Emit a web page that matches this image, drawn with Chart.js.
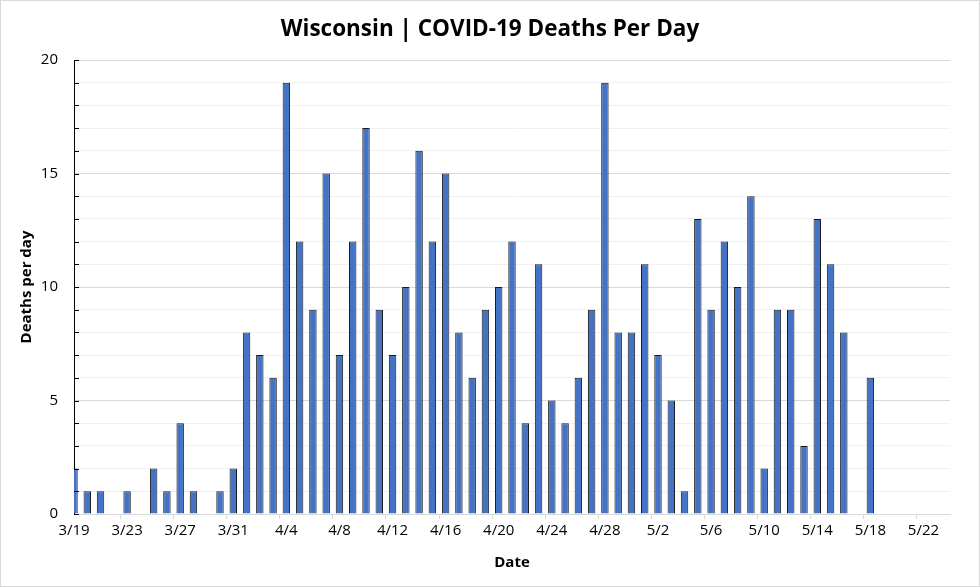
<!DOCTYPE html>
<html>
<head>
<meta charset="utf-8">
<script src="https://cdn.jsdelivr.net/npm/chart.js@4"></script>
<style>
html, body { margin: 0; padding: 0; background: #fff; }
#wrap { width: 980px; height: 587px; }
</style>
</head>
<body>
<div id="wrap"><canvas id="myChart"></canvas></div>
<script>
// one label per day, 3/19 .. 5/24
const dates = [
    '3/19','3/20','3/21','3/22','3/23','3/24','3/25','3/26','3/27','3/28','3/29','3/30','3/31',
    '4/1','4/2','4/3','4/4','4/5','4/6','4/7','4/8','4/9','4/10','4/11','4/12','4/13','4/14','4/15',
    '4/16','4/17','4/18','4/19','4/20','4/21','4/22','4/23','4/24','4/25','4/26','4/27','4/28','4/29','4/30',
    '5/1','5/2','5/3','5/4','5/5','5/6','5/7','5/8','5/9','5/10','5/11','5/12','5/13','5/14','5/15',
    '5/16','5/17','5/18','5/19','5/20','5/21','5/22','5/23','5/24'
]
const deaths = [
    2,1,1,0,1,0,2,1,4,1,0,1,2,
    8,7,6,19,12,9,15,7,12,17,9,7,10,16,12,
    15,8,6,9,10,12,4,11,5,4,6,9,19,8,8,
    11,7,5,1,13,9,12,10,14,2,9,9,3,13,11,
    8,0,6,null,null,null,null,null,null
]
const yMax = 20
const yMajor = 5
const labelEvery = 4

const fontFamily = "'Open Sans', 'Liberation Sans', sans-serif"

// inward tick marks on the value axis + light frame round the chart
const frame = {
    id: 'frame',
    afterDraw(chart) {
        const ctx = chart.ctx
        const y = chart.scales.y
        const left = chart.chartArea.left
        ctx.save()
        ctx.strokeStyle = '#000'
        ctx.lineWidth = 1
        y.ticks.forEach(t => {
            const py = Math.round(y.getPixelForValue(t.value)) + 0.5
            ctx.beginPath()
            ctx.moveTo(left, py)
            ctx.lineTo(left + 5, py)
            ctx.stroke()
        })
        ctx.strokeStyle = '#d9d9d9'
        ctx.strokeRect(0.5, 0.5, chart.width - 1, chart.height - 1)
        ctx.restore()
    }
}

const ctx = document.getElementById('myChart').getContext('2d')
const myChart = new Chart(ctx, {
    type: 'bar',
    data: {
        labels: dates,
        datasets: [{
            label: 'Deaths per day',
            data: deaths,
            backgroundColor: '#4472C4',
            borderColor: '#1a1a1a',
            borderWidth: 1,
            barPercentage: 0.56,
            categoryPercentage: 1
        }]
    },
    options: {
        responsive: true,
        maintainAspectRatio: false,
        animation: false,
        layout: { padding: 0 },
        plugins: {
            legend: { display: false },
            tooltip: { enabled: false },
            title: {
                display: true,
                text: 'Wisconsin | COVID-19 Deaths Per Day',
                color: '#000',
                font: { family: fontFamily, size: 22.5, weight: 'bold', lineHeight: 1.2 },
                padding: { top: 16, bottom: 17 }
            }
        },
        scales: {
            x: {
                offset: false,
                afterFit: s => { s.height = 73 },
                grid: {
                    drawOnChartArea: false,
                    drawTicks: true,
                    tickLength: 5,
                    color: c => c.index % labelEvery === 0 ? '#d9d9d9' : 'rgba(0,0,0,0)'
                },
                border: { color: '#d9d9d9' },
                ticks: {
                    autoSkip: false,
                    maxRotation: 0,
                    padding: 3,
                    color: '#000',
                    font: { family: fontFamily, size: 15 },
                    callback: (v, i) => i % labelEvery === 0 ? dates[i] : ''
                },
                title: {
                    display: true,
                    text: 'Date',
                    color: '#000',
                    font: { family: fontFamily, size: 15, weight: 'bold', lineHeight: 1.2 },
                    padding: { top: 0, bottom: 15 }
                }
            },
            y: {
                min: 0,
                max: yMax,
                afterFit: s => { s.width = 74 },
                grid: {
                    drawTicks: false,
                    color: c => c.tick.value % yMajor === 0 ? '#d9d9d9' : '#f0f0f0'
                },
                border: { color: '#000' },
                ticks: {
                    stepSize: 1,
                    autoSkip: false,
                    padding: 16,
                    color: '#000',
                    font: { family: fontFamily, size: 15 },
                    callback: v => v % yMajor === 0 ? v : ''
                },
                title: {
                    display: true,
                    text: 'Deaths per day',
                    color: '#000',
                    font: { family: fontFamily, size: 15, weight: 'bold', lineHeight: 1.2 },
                    padding: { top: 18, bottom: 0 }
                }
            },
            // empty right-hand strip so the title stays centred on the whole canvas
            yRight: {
                position: 'right',
                afterFit: s => { s.width = 30 },
                grid: { display: false },
                border: { display: false },
                ticks: { display: false }
            }
        }
    },
    plugins: [frame]
})
</script>
</body>
</html>
